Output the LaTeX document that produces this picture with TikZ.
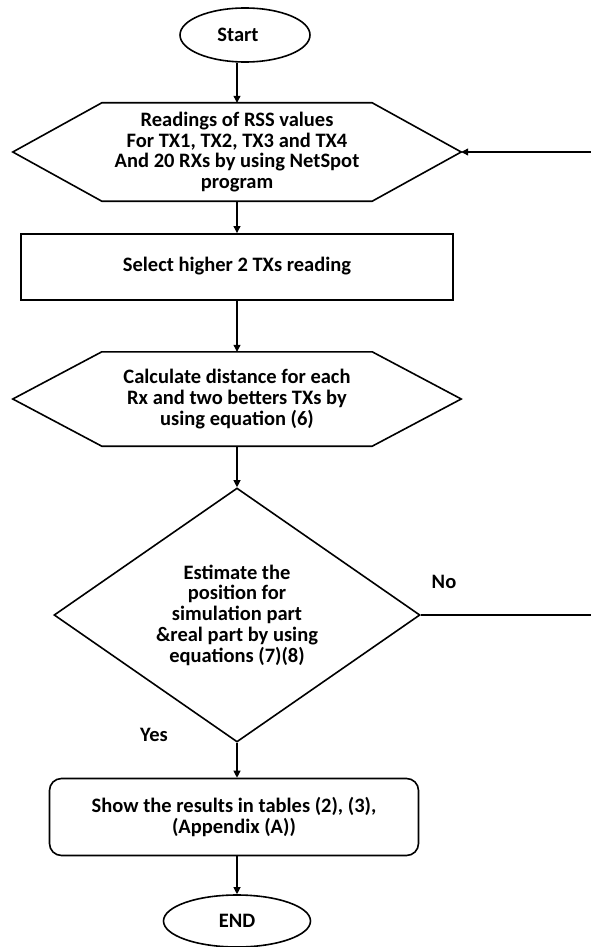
\documentclass[tikz,border=0pt]{standalone}
\usepackage{fontspec}
\setmainfont{Carlito}
\usetikzlibrary{arrows.meta,calc,positioning,shapes.geometric}

\tikzset{
  terminal/.style={draw,ellipse,line width=1.6pt,inner sep=0pt},
  process/.style={draw,rectangle,line width=1.9pt,minimum width=432pt,minimum height=66pt},
  prep/.style={minimum width=448pt,align=center,inner sep=0pt},
  decision/.style={draw,diamond,line width=1.6pt,minimum width=366pt,minimum height=254pt,aspect=1.44,align=center,inner sep=0pt},
  output/.style={draw,rounded corners=12pt,line width=1.6pt,minimum width=369pt,minimum height=77pt,align=center},
  flow/.style={-{Triangle[length=7pt,width=7pt]},line width=1.1pt},
}

\begin{document}
\begin{tikzpicture}[x=1pt,y=-1pt,font=\bfseries\fontsize{20.5}{20.8}\selectfont]
  \useasboundingbox (0,0) rectangle (590,947);

  % nodes, top to bottom
  \node[terminal,minimum width=130pt,minimum height=54pt] (start) at (245,35) {Start\hspace*{14pt}};
  \node[prep,minimum height=98pt] (readings) at (237,152)
    {Readings of RSS values\\For TX1, TX2, TX3 and TX4\\And 20 RXs by using NetSpot\\program};
  \node[process] (select) at (237,267) {\raisebox{6pt}{Select higher 2 TXs reading}};
  \node[prep,minimum height=94pt] (distance) at (237,399)
    {Calculate distance for each\\Rx and two betters TXs by\\using equation (6)};
  \node[decision] (check) at (237,615)
    {Estimate the\\position for\\simulation part\\\&real part by using\\equations (7)(8)};
  \node[output] (results) at (234,817) {Show the results in tables (2), (3),\\(Appendix (A))};
  \node[terminal,minimum width=147pt,minimum height=52pt] (finish) at (237,921) {END};

  % hexagon outlines
  \foreach \hex in {readings,distance}{
    \draw[line width=1.6pt] (\hex.west) -- ($(\hex.north west)+(89,0)$)
      -- ($(\hex.north east)+(-89,0)$) -- (\hex.east)
      -- ($(\hex.south east)+(-89,0)$) -- ($(\hex.south west)+(89,0)$) -- cycle;
  }

  \node (yes) at (154,735) {Yes};
  \node (no) at (444,582) {No};
  \coordinate (loopend) at (600,615);

  % connectors
  \draw[flow] (readings.north |- start.south) -- (readings.north);
  \draw[flow] (readings.south) -- (select.north);
  \draw[flow] (select.south) -- (distance.north);
  \draw[flow] (distance.south) -- (check.north);
  \draw[flow] (check.south) -- (check.south |- results.north);
  \draw[flow] (results.south -| finish.north) -- (finish.north);
  \draw[flow] (check.east) -- (loopend) |- (readings.east);
\end{tikzpicture}
\end{document}
